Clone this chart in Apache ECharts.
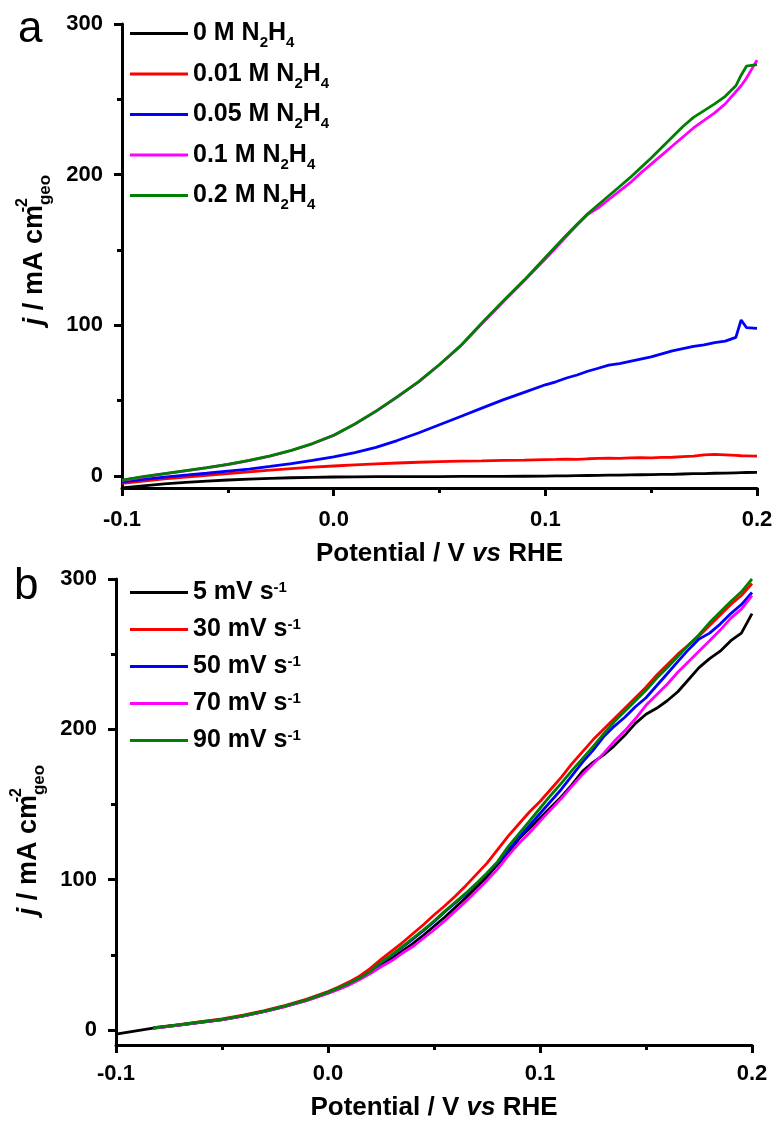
<!DOCTYPE html>
<html>
<head>
<meta charset="utf-8">
<script src="https://cdn.jsdelivr.net/npm/echarts@6/dist/echarts.min.js"></script>
<style>
  html, body { margin: 0; padding: 0; background: #ffffff; }
  #chart { width: 777px; height: 1122px; }
</style>
</head>
<body>
<div id="chart"></div>
<script>
// ---- Panel a: LSV at different hydrazine concentrations ----
const xA = [-0.1, -0.09, -0.08, -0.07, -0.06, -0.05, -0.04, -0.03, -0.02, -0.01, 0,
  0.01, 0.02, 0.03, 0.04, 0.05, 0.06, 0.07, 0.08, 0.09, 0.1,
  0.105, 0.11, 0.115, 0.12, 0.125, 0.13, 0.135, 0.14, 0.145, 0.15, 0.155, 0.16, 0.165, 0.17, 0.175, 0.18, 0.185, 0.19,
  0.1925, 0.195, 0.2];
const conc0 = [-8, -6.6, -5.3, -4.3, -3.4, -2.7, -2.1, -1.6, -1.2, -0.9, -0.7,
  -0.6, -0.5, -0.5, -0.4, -0.4, -0.3, -0.3, -0.3, -0.2, -0.1,
  0, 0.1, 0.2, 0.3, 0.4, 0.5, 0.6, 0.7, 0.8, 0.9, 1.0, 1.1, 1.3, 1.5, 1.6, 1.8, 1.9, 2.1,
  2.2, 2.3, 2.4];
const conc001 = [-5, -3.5, -2, -0.7, 0.4, 1.6, 2.7, 3.8, 4.8, 5.8, 6.6,
  7.3, 8.0, 8.6, 9.1, 9.5, 9.8, 10.0, 10.3, 10.5, 10.9,
  11.0, 11.2, 11.0, 11.4, 11.6, 11.8, 11.6, 12.0, 12.1, 12.0, 12.3, 12.4, 12.8, 13.2, 14.0, 14.3, 14.0, 13.6,
  13.4, 13.3, 13.1];
const conc005 = [-4, -2.3, -0.8, 0.5, 1.8, 3.2, 4.6, 6.3, 8.2, 10.3, 12.6,
  15.5, 19, 23.5, 28.5, 34, 39.5, 45, 50.5, 55.5, 60.5,
  62.5, 65, 67, 69.5, 71.5, 73.5, 74.5, 76, 77.5, 79, 81, 83, 84.5, 86, 87, 88.5, 89.5, 92,
  103.5, 98.5, 98];
const conc01 = [-2.9, -0.7, 1.4, 3.4, 5.4, 7.6, 10.2, 13.2, 16.9, 21.4, 26.9,
  34.4, 42.9, 52.4, 62.3, 73.8, 86.3, 101, 115.5, 129.5, 144,
  151.5, 159, 166.5, 173.5, 178, 183.5, 189, 194.5, 201, 207, 213, 219, 225, 231, 236, 241, 247, 255,
  259, 264, 276];
const conc02 = [-2.7, -0.5, 1.5, 3.5, 5.5, 7.7, 10.3, 13.3, 17, 21.5, 27,
  34.5, 43, 52.5, 62.5, 74, 86.5, 101.5, 116, 130, 145,
  152.5, 160, 167, 174, 180, 186, 192, 198, 204.5, 211, 218, 225, 232, 238, 242.5, 247, 252, 259,
  266, 272, 273];
const namesA = ['0 M N2H4', '0.01 M N2H4', '0.05 M N2H4', '0.1 M N2H4', '0.2 M N2H4'];

// ---- Panel b: LSV at different scan rates ----
const xB = [-0.1, -0.0825, -0.07, -0.06, -0.05, -0.04, -0.03, -0.02, -0.01, 0,
  0.005, 0.01, 0.015, 0.02, 0.025, 0.03, 0.035, 0.04, 0.045, 0.05,
  0.055, 0.06, 0.065, 0.07, 0.075, 0.08, 0.085, 0.09, 0.095, 0.1,
  0.105, 0.11, 0.115, 0.12, 0.125, 0.13, 0.135, 0.14, 0.145, 0.15,
  0.155, 0.16, 0.165, 0.17, 0.175, 0.18, 0.185, 0.19, 0.195, 0.2];
const rate5 = [-2.7, 1.2, 3.3, 5.1, 6.9, 9.3, 12.3, 15.8, 19.8, 24.6,
  27.5, 30.5, 34, 38, 43, 47.5, 52.5, 57.5, 63, 69,
  75, 81.5, 88, 95, 102, 110, 118, 127, 134, 141,
  148, 155, 163, 172, 178, 183, 189, 196, 204, 210,
  214, 219, 225, 233, 241, 247, 252, 259, 264, 277];
const rate30 = [null, 1.5, 3.6, 5.5, 7.3, 9.8, 12.8, 16.3, 20.5, 25.5,
  28.5, 32, 36, 41, 47, 52.5, 58, 64, 70, 76.5,
  82.5, 89, 96, 103.5, 111, 120, 129, 137, 145, 152,
  160, 168, 177, 185, 193, 200, 207, 214, 221, 228,
  236, 243, 250, 256, 262, 269, 276, 283, 289, 297];
const rate50 = [null, 1.2, 3.4, 5.2, 6.9, 9.4, 12.4, 15.9, 19.9, 24.9,
  27.8, 30.8, 34.3, 38.7, 44.5, 49.6, 55, 60.5, 66, 72,
  78.5, 84.5, 90.5, 97, 104, 111, 119.5, 128, 136, 144,
  152, 160, 169, 178, 186, 195, 202, 208, 215, 221,
  229, 237, 245, 253, 260, 264, 270, 277, 283, 291];
const rate70 = [null, 1.0, 3.2, 5, 6.8, 9.2, 12.2, 15.6, 19.5, 24.3,
  27, 30, 33.5, 37.5, 42, 46, 51, 55.5, 61, 66.5,
  72.5, 79, 85.5, 92.5, 99.5, 107, 116, 124, 131, 139,
  146.5, 154, 162, 170, 177, 184, 192, 199, 207, 216,
  223, 230, 238, 245, 252, 259, 266, 274, 280, 289];
const rate90 = [null, 1.3, 3.5, 5.3, 7, 9.5, 12.5, 16, 20, 25,
  28, 31, 34.5, 39, 45, 50, 55.5, 61, 66.5, 72.5,
  79, 85, 91, 97.5, 104.5, 112, 122, 130.5, 139, 147.5,
  156, 164, 172.5, 180.5, 188.5, 197, 205, 212, 219, 226,
  234, 241, 248.5, 256, 263, 271, 278, 285, 291.5, 300];
const namesB = ['5 mV s-1', '30 mV s-1', '50 mV s-1', '70 mV s-1', '90 mV s-1'];

// ---- Axis ticks ----
const xTicks = [-0.1, 0, 0.1, 0.2];
const xMinorTicks = [-0.05, 0.05, 0.15];
const yTicks = [0, 100, 200, 300];
const yMinorTicks = [50, 150, 250];

const colors = ['#000000', '#ff0000', '#0000ff', '#ff00ff', '#008000'];
const FONT = "'Liberation Sans', Arial, Helvetica, sans-serif";

function pairs(xs, ys) {
  const out = [];
  xs.forEach((x, i) => { if (ys[i] != null) out.push([x, ys[i]]); });
  return out;
}

const axisLineStyle = { color: '#000', width: 3 };
const tickStyle = { color: '#000', width: 3 };

function xAxisMajor(grid, labelMargin, nameGap) {
  return {
    type: 'value', gridIndex: grid, position: 'bottom', min: -0.1, max: 0.2,
    axisLine: { show: true, onZero: false, lineStyle: axisLineStyle },
    axisTick: { show: true, inside: false, length: 8, customValues: xTicks, lineStyle: tickStyle },
    axisLabel: {
      customValues: xTicks, margin: labelMargin,
      formatter: v => v.toFixed(1),
      color: '#000', fontSize: 22, fontWeight: 'bold', fontFamily: FONT
    },
    splitLine: { show: false },
    name: '{m|Potential / V }{i|vs}{m| RHE}',
    nameLocation: 'middle', nameGap: nameGap,
    nameTextStyle: {
      color: '#000', fontSize: 26, fontWeight: 'bold', fontFamily: FONT,
      rich: {
        m: { color: '#000', fontSize: 26, fontWeight: 'bold', fontFamily: FONT },
        i: { color: '#000', fontSize: 26, fontWeight: 'bold', fontStyle: 'italic', fontFamily: FONT }
      }
    }
  };
}
function xAxisMinor(grid) {
  return {
    type: 'value', gridIndex: grid, position: 'bottom', min: -0.1, max: 0.2,
    axisLine: { show: false, onZero: false },
    axisTick: { show: true, inside: false, length: 5, customValues: xMinorTicks, lineStyle: tickStyle },
    axisLabel: { show: false },
    splitLine: { show: false }
  };
}
// the italic j carries the tall line box, so -2 sits high and "geo" sits low beside "cm"
function yAxisMajor(grid, yMin, nameGap, namePadding) {
  return {
    type: 'value', gridIndex: grid, position: 'left', min: yMin, max: 300,
    axisLine: { show: true, onZero: false, lineStyle: axisLineStyle },
    axisTick: { show: true, inside: false, length: 8, customValues: yTicks, lineStyle: tickStyle },
    axisLabel: {
      customValues: yTicks, margin: 19,
      color: '#000', fontSize: 22, fontWeight: 'bold', fontFamily: FONT
    },
    splitLine: { show: false },
    name: '{j|j}{m| / mA cm}{p|-2}{s|geo}',
    nameLocation: 'middle', nameRotate: 90, nameGap: nameGap,
    nameTextStyle: {
      color: '#000', fontSize: 27, fontWeight: 'bold', fontFamily: FONT,
      padding: namePadding,
      rich: {
        j: { color: '#000', fontSize: 27, fontWeight: 'bold', fontStyle: 'italic', fontFamily: FONT, lineHeight: 39, verticalAlign: 'middle' },
        m: { color: '#000', fontSize: 27, fontWeight: 'bold', fontFamily: FONT, lineHeight: 28, verticalAlign: 'middle' },
        p: { color: '#000', fontSize: 16, fontWeight: 'bold', fontFamily: FONT, lineHeight: 16, verticalAlign: 'top', width: 0 },
        s: { color: '#000', fontSize: 17, fontWeight: 'bold', fontFamily: FONT, lineHeight: 17, verticalAlign: 'bottom' }
      }
    }
  };
}
function yAxisMinor(grid, yMin) {
  return {
    type: 'value', gridIndex: grid, position: 'left', min: yMin, max: 300,
    axisLine: { show: false, onZero: false },
    axisTick: { show: true, inside: false, length: 5, customValues: yMinorTicks, lineStyle: tickStyle },
    axisLabel: { show: false },
    splitLine: { show: false }
  };
}

function lineSeries(name, xs, ys, color, axisIdx) {
  return {
    type: 'line', name: name, data: pairs(xs, ys),
    xAxisIndex: axisIdx, yAxisIndex: axisIdx,
    symbol: 'none', showSymbol: false, smooth: false, clip: true,
    color: color,
    lineStyle: { color: color, width: 2.8 },
    emphasis: { disabled: true }
  };
}

const seriesA = [conc0, conc001, conc005, conc01, conc02];
const seriesB = [rate5, rate30, rate50, rate70, rate90];

const legendText = { color: '#000', fontSize: 25, fontWeight: 'bold', fontFamily: FONT };

const option = {
  animation: false,
  backgroundColor: '#ffffff',
  title: [
    { text: 'a', left: 18, top: 8, padding: 0, textStyle: { color: '#000', fontSize: 44, fontWeight: 'normal', fontFamily: FONT } },
    { text: 'b', left: 14, top: 565, padding: 0, textStyle: { color: '#000', fontSize: 44, fontWeight: 'normal', fontFamily: FONT } }
  ],
  grid: [
    { left: 122, right: 20, top: 24, bottom: 634, outerBoundsMode: 'none' },
    { left: 116, right: 25, top: 579, bottom: 77, outerBoundsMode: 'none' }
  ],
  xAxis: [xAxisMajor(0, 21, 53), xAxisMinor(0), xAxisMajor(1, 18, 50), xAxisMinor(1)],
  yAxis: [yAxisMajor(0, -8, 68, [0, 0, 0, 12]), yAxisMinor(0, -8), yAxisMajor(1, -10, 68, [0, 56, 0, 0]), yAxisMinor(1, -10)],
  legend: [
    {
      left: 130, top: 21, padding: 0, orient: 'vertical', icon: 'rect', itemWidth: 58, itemHeight: 3, itemGap: 11,
      data: namesA, selectedMode: false,
      formatter: n => '{m|' + n.replace('N2H4', 'N') + '}{s|2}{m|H}{s|4}',
      textStyle: Object.assign({}, legendText, {
        rich: {
          m: Object.assign({}, legendText, { lineHeight: 34, verticalAlign: 'middle' }),
          s: Object.assign({}, legendText, { fontSize: 15, lineHeight: 15, verticalAlign: 'bottom' })
        }
      })
    },
    {
      left: 130, top: 580, padding: 0, orient: 'vertical', icon: 'rect', itemWidth: 58, itemHeight: 3, itemGap: 12,
      data: namesB, selectedMode: false,
      formatter: n => '{m|' + n.replace('s-1', 's') + '}{p|-1}',
      textStyle: Object.assign({}, legendText, {
        rich: {
          m: Object.assign({}, legendText, { lineHeight: 24, verticalAlign: 'middle' }),
          p: Object.assign({}, legendText, { fontSize: 15, lineHeight: 15, verticalAlign: 'top' })
        }
      })
    }
  ],
  series: [
    ...namesA.map((n, i) => lineSeries(n, xA, seriesA[i], colors[i], 0)),
    ...namesB.map((n, i) => lineSeries(n, xB, seriesB[i], colors[i], 2))
  ]
};

const chart = echarts.init(document.getElementById('chart'), null, { renderer: 'canvas' });
chart.setOption(option);
</script>
</body>
</html>
